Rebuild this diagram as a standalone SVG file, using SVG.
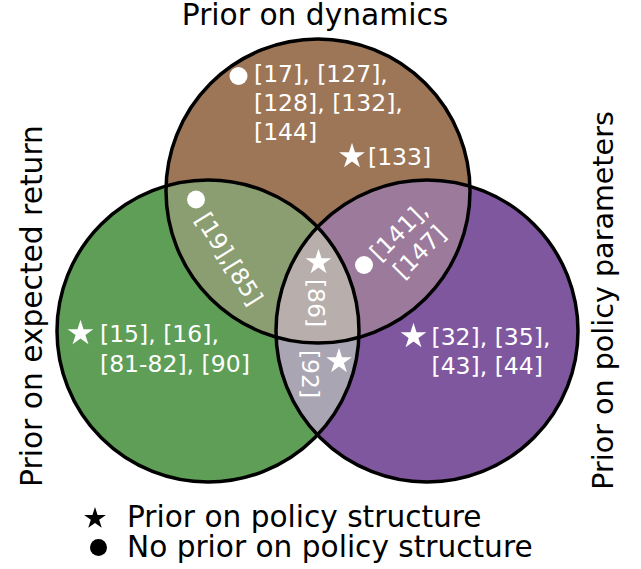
<svg xmlns="http://www.w3.org/2000/svg" xmlns:xlink="http://www.w3.org/1999/xlink" width="641" height="569" viewBox="0 0 641 569">
<style>
text { font-family: "DejaVu Sans", "Liberation Sans", sans-serif; }
.title { font-size: 29.7px; fill: #000; }
.lbl { font-size: 23.5px; fill: #fff; }
.outline { fill: none; stroke: #000; stroke-width: 3.5; }
.mk { fill: #fff; }
</style>
<defs>
<clipPath id="cA"><circle cx="318" cy="191" r="152"/></clipPath>
<clipPath id="cB"><circle cx="208" cy="331" r="151"/></clipPath>
<clipPath id="cC"><circle cx="427" cy="331" r="151"/></clipPath>
<path id="star" d="M0,-13.5 L3.03,-4.17 L12.84,-4.17 L4.91,1.59 L7.94,10.92 L0,5.16 L-7.94,10.92 L-4.91,1.59 L-12.84,-4.17 L-3.03,-4.17 Z"/>
</defs>

<g id="regions">
<circle cx="208" cy="331" r="151" fill="#5E9E57"/>
<circle cx="427" cy="331" r="151" fill="#7F579E"/>
<circle cx="318" cy="191" r="152" fill="#9D7657"/>
<circle cx="208" cy="331" r="151" fill="#8B9E72" clip-path="url(#cA)"/>
<circle cx="427" cy="331" r="151" fill="#9B7A9B" clip-path="url(#cA)"/>
<circle cx="427" cy="331" r="151" fill="#A9A5B3" clip-path="url(#cB)"/>
<g clip-path="url(#cA)"><circle cx="208" cy="331" r="151" fill="#B8AEAC" clip-path="url(#cC)"/></g>
</g>

<g id="outlines">
<circle class="outline" cx="318" cy="191" r="152"/>
<circle class="outline" cx="208" cy="331" r="151"/>
<circle class="outline" cx="427" cy="331" r="151"/>
</g>

<g id="titles">
<text class="title" x="315" y="25" text-anchor="middle">Prior on dynamics</text>
<text class="title" transform="translate(42,306) rotate(-90)" text-anchor="middle">Prior on expected return</text>
<text class="title" transform="translate(613,300.5) rotate(-90)" text-anchor="middle" style="font-size:28.6px">Prior on policy parameters</text>
</g>

<g id="node-dynamics">
<circle class="mk" cx="238.5" cy="76" r="9"/>
<text class="lbl" x="254" y="82">[17], [127],</text>
<text class="lbl" x="254" y="111">[128], [132],</text>
<text class="lbl" x="254" y="140">[144]</text>
<use href="#star" class="mk" x="352" y="156.3"/>
<text class="lbl" x="368" y="165">[133]</text>
</g>

<g id="node-return">
<use href="#star" class="mk" x="80.5" y="333.3"/>
<text class="lbl" x="100" y="342">[15], [16],</text>
<text class="lbl" x="100" y="371.5">[81-82], [90]</text>
</g>

<g id="node-params">
<use href="#star" class="mk" x="413.5" y="336.3"/>
<text class="lbl" x="431.5" y="345">[32], [35],</text>
<text class="lbl" x="431.5" y="374">[43], [44]</text>
</g>

<g id="node-dyn-return">
<circle class="mk" cx="196" cy="199.5" r="9"/>
<text class="lbl" transform="translate(229,259) rotate(58)" text-anchor="middle" y="8">[19],[85]</text>
</g>

<g id="node-dyn-params">
<circle class="mk" cx="364" cy="265" r="9"/>
<text class="lbl" transform="translate(409,241.5) rotate(-45)" text-anchor="middle"><tspan x="0" y="-6">[141],</tspan><tspan x="0" y="23">[147]</tspan></text>
</g>

<g id="node-all">
<use href="#star" class="mk" x="318.5" y="262.3"/>
<text class="lbl" transform="translate(315.7,303) rotate(90)" text-anchor="middle" y="8">[86]</text>
</g>

<g id="node-return-params">
<use href="#star" class="mk" x="339" y="361.3"/>
<text class="lbl" transform="translate(310,374) rotate(90)" text-anchor="middle" y="8">[92]</text>
</g>

<g id="legend">
<use href="#star" transform="translate(95,518.5) scale(0.85)" fill="#000"/>
<circle cx="98.5" cy="547.5" r="8.5" fill="#000"/>
<text class="title" x="127" y="527" style="font-size:29.6px">Prior on policy structure</text>
<text class="title" x="127" y="557" style="font-size:29.6px">No prior on policy structure</text>
</g>

<g id="connectors"></g>
</svg>
